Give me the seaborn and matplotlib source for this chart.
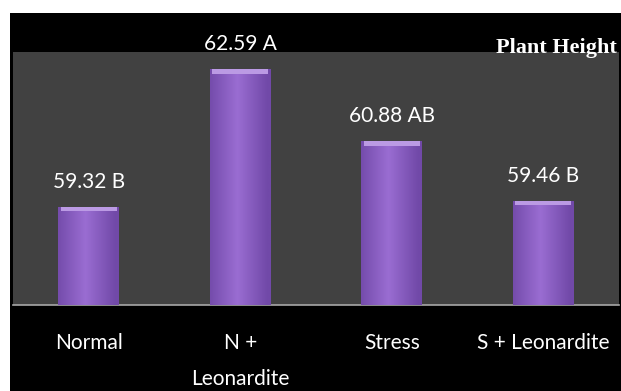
import numpy as np
import pandas as pd
import seaborn as sns
import matplotlib.pyplot as plt
from matplotlib.patches import Rectangle

# Chart values
treatments = ['Normal', 'N +\nLeonardite', 'Stress', 'S + Leonardite']
plant_height = [59.32, 62.59, 60.88, 59.46]
groups = ['B', 'A', 'AB', 'B']

data = pd.DataFrame({'treatment': treatments, 'height': plant_height})

sns.set_style('dark')
plt.rcParams['font.family'] = ['Lato', 'DejaVu Sans']

fig = plt.figure(figsize=(6.21, 3.91), dpi=100, facecolor='white')
# black panel behind the chart (white strip on top and left like the source)
fig.patches.append(Rectangle((10 / 621, 0), 1, 1 - 13 / 391, transform=fig.transFigure,
                             facecolor='black', edgecolor='none', zorder=-10))

ax = fig.add_axes([13 / 621, 86 / 391, 606 / 621, 253 / 391])
ax.set_zorder(5)
ax.set_facecolor('#414141')

sns.barplot(data=data, x='treatment', y='height', color='#8a5cc0',
            width=0.4, saturation=1, ax=ax, zorder=2, linewidth=0, edgecolor='none')

ymin, ymax = 57.0, 63.0
ax.set_ylim(ymin, ymax)
ax.set_xlim(-0.5, 3.5)

# soft horizontal shading + light bevel on top of each bar
grad = np.linspace(0, 1, 64).reshape(1, -1)
grad = 1 - np.abs(grad - 0.45) * 2
cmap = sns.blend_palette(['#7149a8', '#9a6dd2'], as_cmap=True)
for p in list(ax.patches):
    x0, w, h = p.get_x(), p.get_width(), p.get_height()
    top = p.get_y() + h
    im = ax.imshow(grad, cmap=cmap, extent=[x0, x0 + w, ymin, top],
                   aspect='auto', zorder=3, vmin=0, vmax=1)
    ax.add_patch(Rectangle((x0 + w * 0.04, top - 0.1), w * 0.92, 0.1,
                           facecolor='#bb9ae4', edgecolor='none', zorder=4))

ax.set_ylim(ymin, ymax)
ax.set_xlim(-0.5, 3.5)

# value labels above the bars
for i, (v, g) in enumerate(zip(plant_height, groups)):
    ax.annotate(f'{v:.2f} {g}', (i, v), xytext=(0, 25),
                textcoords='offset pixels', ha='center', va='center',
                color='white', fontsize=15, annotation_clip=False)

fig.text(1 - 4 / 621, 1 - 48 / 391, 'Plant Height', ha='right', va='center',
         color='white', fontsize=16, fontweight='bold', family='Liberation Serif',
         zorder=10)

ax.set_xlabel('')
ax.set_ylabel('')
ax.set_yticks([])
ax.tick_params(axis='x', colors='white', labelsize=15, length=0, pad=20)
for lbl in ax.get_xticklabels():
    lbl.set_linespacing(2.0)
for s in ['top', 'left', 'right']:
    ax.spines[s].set_visible(False)
ax.spines['bottom'].set_visible(True)
ax.spines['bottom'].set_color('#a8a8a8')
ax.spines['bottom'].set_linewidth(1.2)
ax.grid(False)

fig.savefig('out.png', dpi=100, facecolor=fig.get_facecolor())
